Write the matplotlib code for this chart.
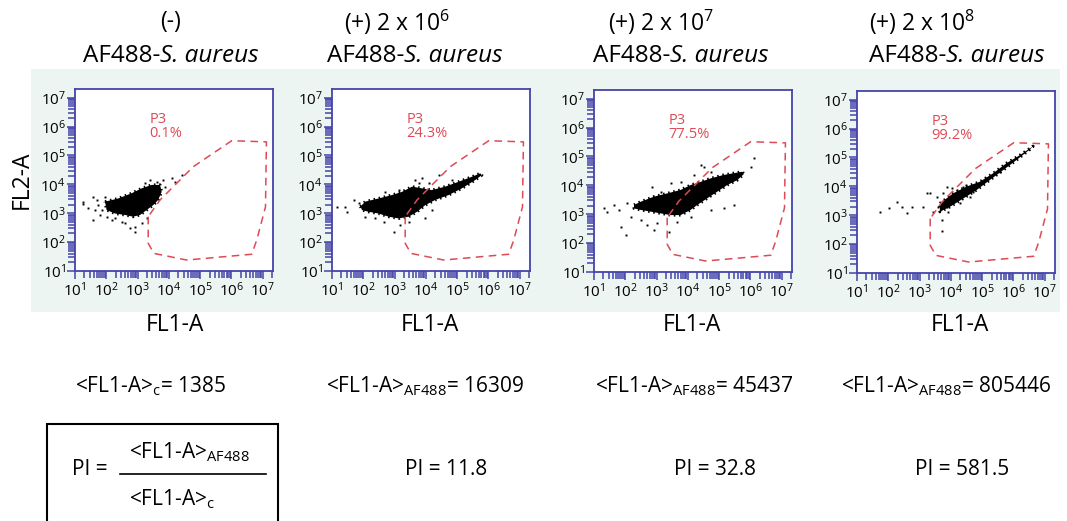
import numpy as np
import matplotlib
matplotlib.use("Agg")
import matplotlib.pyplot as plt
from matplotlib.patches import Rectangle
from matplotlib.lines import Line2D
from matplotlib.ticker import LogLocator, NullFormatter, FixedLocator

plt.rcParams['font.family'] = ['Open Sans', 'DejaVu Sans']
plt.rcParams['mathtext.fontset'] = 'custom'
plt.rcParams['mathtext.rm'] = 'Open Sans'
plt.rcParams['mathtext.it'] = 'Open Sans:italic'
plt.rcParams['mathtext.default'] = 'regular'

# --- data (log10 of FL1-A / FL2-A) ---
conditions = ["(-)", "(+) 2 x 10$^{6}$", "(+) 2 x 10$^{7}$", "(+) 2 x 10$^{8}$"]
gate_pct = ["0.1%", "24.3%", "77.5%", "99.2%"]
mean_fl1 = [1385, 16309, 45437, 805446]
mean_sub = ["c", "AF488", "AF488", "AF488"]
pi_vals = [None, 11.8, 32.8, 581.5]
decades = [1, 2, 3, 4, 5, 6, 7]

# P3 gate (same for all four plots)
gate_x = [3.34, 3.34, 3.52, 4.57, 6.65, 6.81, 7.09, 7.12, 6.01, 4.78, 3.72, 3.45, 3.34]
gate_y = [2.88, 1.96, 1.61, 1.38, 1.58, 2.07, 3.22, 5.47, 5.51, 4.61, 3.46, 3.05, 2.88]

# dense part of each event cloud (outline)
core1_x = [1.96, 2.38, 2.81, 3.13, 3.45, 3.72, 3.77, 3.66, 3.50, 3.29, 3.08, 2.86, 2.60, 2.28, 2.01]
core1_y = [3.40, 3.51, 3.69, 3.86, 3.98, 3.98, 3.74, 3.46, 3.28, 3.11, 2.94, 2.88, 2.94, 2.99, 3.11]
core2_x = [1.91, 2.06, 2.49, 2.92, 3.24, 3.56, 3.88, 4.19, 4.62, 5.05, 5.47, 5.74, 5.79,
           5.58, 5.15, 4.73, 4.30, 3.98, 3.72, 3.45, 3.13, 2.81, 2.49, 2.17, 1.96]
core2_y = [3.23, 3.40, 3.51, 3.63, 3.74, 3.92, 3.86, 3.80, 3.92, 4.09, 4.26, 4.38, 4.32,
           4.15, 3.86, 3.63, 3.46, 3.28, 3.05, 2.88, 2.82, 2.88, 2.99, 3.05, 3.11]
core3_x = [2.28, 2.49, 2.92, 3.34, 3.77, 4.09, 4.41, 4.73, 5.15, 5.47, 5.74, 5.79,
           5.58, 5.26, 4.94, 4.62, 4.30, 4.09, 3.77, 3.45, 3.13, 2.81, 2.49, 2.28]
core3_y = [3.32, 3.43, 3.61, 3.72, 3.84, 4.01, 4.12, 4.24, 4.36, 4.42, 4.47, 4.39,
           4.18, 4.01, 3.78, 3.55, 3.32, 3.15, 2.97, 2.97, 3.03, 3.09, 3.15, 3.20]
core4_x = [3.65, 4.08, 4.50, 4.93, 5.35, 5.78, 6.21, 6.63, 6.53, 6.10, 5.67, 5.25, 4.82, 4.40, 3.97, 3.65]
core4_y = [3.41, 3.76, 3.99, 4.16, 4.45, 4.80, 5.08, 5.39, 5.28, 4.91, 4.56, 4.22, 3.87, 3.58, 3.29, 3.12]

# scattered single events outside the dense part
stray1_x = [1.27, 1.27, 1.59, 1.64, 1.59, 1.96, 2.01, 2.17, 2.49, 2.76, 2.92, 2.92, 3.13, 3.29, 3.61,
            3.82, 4.09, 4.19, 4.41, 3.88, 2.06, 1.85, 1.75, 3.24, 3.40, 2.60, 2.28, 1.80, 1.43, 1.69]
stray1_y = [3.40, 3.32, 3.57, 3.11, 2.76, 3.57, 2.88, 2.76, 2.71, 2.48, 2.53, 2.36, 2.65, 2.82, 4.09,
            4.15, 4.21, 4.09, 4.32, 3.92, 3.23, 3.11, 3.28, 4.03, 4.15, 2.65, 2.82, 2.94, 3.17, 3.46]
stray2_x = [1.16, 1.43, 1.48, 1.69, 1.85, 2.70, 2.97, 3.18, 3.66, 3.77, 3.88, 4.09, 4.41, 4.83,
            3.13, 3.56, 3.98, 3.45, 2.06, 2.38, 2.65, 4.19, 2.28]
stray2_y = [3.23, 3.23, 3.05, 3.46, 3.34, 3.74, 2.36, 2.59, 4.15, 4.03, 4.21, 4.03, 4.32, 4.15,
            3.80, 3.69, 2.82, 2.71, 2.88, 2.82, 2.71, 3.11, 3.40]
stray3_x = [1.32, 1.43, 1.80, 1.85, 2.01, 2.06, 2.86, 3.13, 3.45, 3.77, 4.19, 4.41, 4.51, 4.73,
            6.01, 6.11, 5.47, 5.15, 4.73, 4.09, 3.66, 3.02, 2.70, 2.49, 1.64, 2.17, 3.40, 2.92]
stray3_y = [3.20, 3.09, 3.15, 2.57, 2.28, 3.38, 3.95, 3.78, 4.07, 4.12, 4.36, 4.70, 4.64, 4.47,
            4.64, 4.93, 3.32, 3.20, 3.15, 2.91, 2.74, 2.68, 2.63, 2.80, 3.32, 2.91, 2.40, 2.46]
stray4_x = [1.73, 2.03, 2.29, 2.43, 2.59, 2.75, 3.12, 3.23, 3.33, 3.55, 3.44, 3.71, 3.71, 4.03, 4.40,
            4.50, 5.57, 3.87, 3.87, 4.19, 4.03, 4.29, 4.61, 4.72, 5.14, 3.76, 3.60, 3.92]
stray4_y = [3.12, 3.26, 3.47, 3.29, 3.07, 3.29, 3.29, 3.78, 3.78, 3.64, 3.12, 2.83, 2.46, 3.93, 3.99,
            4.04, 4.51, 3.29, 3.99, 3.87, 3.53, 3.41, 3.64, 3.81, 4.28, 3.76, 3.29, 3.12]

cores = [(core1_x, core1_y), (core2_x, core2_y), (core3_x, core3_y), (core4_x, core4_y)]
strays = [(stray1_x, stray1_y), (stray2_x, stray2_y), (stray3_x, stray3_y), (stray4_x, stray4_y)]

W, H = 1067, 521
fx = lambda px: px / W
fy = lambda py: 1 - py / H

blue = "#4444aa"
red = "#de4a55"

fig = plt.figure(figsize=(W / 100, H / 100), dpi=100)
fig.patch.set_facecolor("white")

# light panel background
fig.patches.append(Rectangle((fx(31), fy(312)), fx(1060) - fx(31), fy(69) - fy(312),
                             transform=fig.transFigure, facecolor="#edf5f3", edgecolor="none", zorder=-5))

ax_left = [75, 332, 594, 857]
ax_bottom = [271, 271, 272, 273]
title1_cx = [171, 397, 661, 922]
title2_cx = [170, 414, 680, 956]
xlab_cx = [175, 430, 692, 960]
mean_cx = [151, 425, 694, 946]
pi_cx = [None, 446, 715, 962]

major = [10.0 ** d for d in decades]
minor = [m * 10.0 ** d for d in decades for m in range(2, 10)]

for i in range(4):
    ax = fig.add_axes([fx(ax_left[i]), fy(ax_bottom[i]), 198 / W, 182 / H])
    ax.set_xscale("log")
    ax.set_yscale("log")
    ax.set_facecolor("white")

    cx, cy = cores[i]
    ax.fill(10 ** np.array(cx), 10 ** np.array(cy), color="black", lw=0, zorder=2)
    # speckled rim around the dense part
    ax.plot(10 ** np.array(cx + cx[:1]), 10 ** np.array(cy + cy[:1]), color="black", lw=2.2,
            dashes=(0.5, 1.2), zorder=2)
    sx, sy = strays[i]
    ax.plot(10 ** np.array(sx), 10 ** np.array(sy), "s", ms=1.4, color="black", mew=0, zorder=2)
    ax.plot(10 ** np.array(gate_x), 10 ** np.array(gate_y), color=red, lw=1.1,
            dashes=(5, 3.5), zorder=3)

    ax.text(0.375, 0.835, "P3", color=red, fontsize=10.5, transform=ax.transAxes, va="center", ha="left")
    ax.text(0.375, 0.757, gate_pct[i], color=red, fontsize=10.5, transform=ax.transAxes, va="center", ha="left")

    for axis in (ax.xaxis, ax.yaxis):
        axis.set_major_locator(FixedLocator(major))
        axis.set_minor_locator(FixedLocator(minor))
        axis.set_minor_formatter(NullFormatter())
    ax.set_xlim(10, 10 ** 7.33)
    ax.set_ylim(10, 10 ** 7.3)
    ax.tick_params(which="both", direction="out", color=blue, width=1.1, labelsize=11)
    ax.tick_params(which="major", length=5.5)
    ax.tick_params(which="minor", length=5)
    ax.tick_params(axis="y", pad=1)
    ax.tick_params(axis="x", pad=2)
    for s in ax.spines.values():
        s.set_color(blue)
        s.set_linewidth(1.3)

    fig.text(fx(title1_cx[i]), fy(22), conditions[i], ha="center", va="center", fontsize=16.5)
    split = title2_cx[i] - 10
    fig.text(fx(split), fy(56), "AF488-", ha="right", va="center", fontsize=17.5)
    fig.text(fx(split), fy(56), "S. aureus", ha="left", va="center", fontsize=17.5, style="italic")
    fig.text(fx(xlab_cx[i]), fy(325), "FL1-A", ha="center", va="center", fontsize=16.5)
    fig.text(fx(mean_cx[i]), fy(392), "<FL1-A>$_{%s}$= %d" % (mean_sub[i], mean_fl1[i]),
             ha="center", va="baseline", fontsize=15)
    if pi_vals[i] is not None:
        fig.text(fx(pi_cx[i]), fy(475), "PI = %.1f" % pi_vals[i], ha="center", va="baseline", fontsize=15)

fig.text(fx(22), fy(180), "FL2-A", rotation=90, ha="center", va="center", fontsize=16.5)

# PI definition box
fig.patches.append(Rectangle((fx(47), -0.05), fx(278) - fx(47), fy(424) + 0.05,
                             transform=fig.transFigure, facecolor="none", edgecolor="black", lw=1.5))
fig.text(fx(72), fy(475), "PI =", ha="left", va="baseline", fontsize=15)
fig.text(fx(189), fy(458), "<FL1-A>$_{AF488}$", ha="center", va="baseline", fontsize=15)
fig.lines.append(Line2D([fx(120), fx(266)], [fy(474), fy(474)], transform=fig.transFigure, color="black", lw=1.2))
fig.text(fx(172), fy(505), "<FL1-A>$_{c}$", ha="center", va="baseline", fontsize=15)

fig.savefig("out.png", dpi=100)
